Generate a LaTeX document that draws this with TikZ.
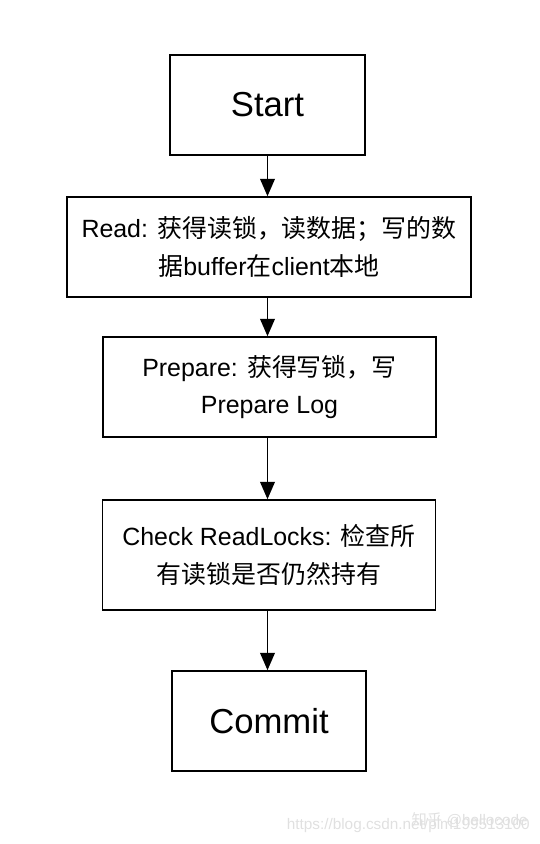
\documentclass[tikz,border=0pt]{standalone}
\usepackage{fontspec}
\setmainfont{Liberation Sans}
\newfontfamily\cjk{Noto Sans CJK SC}
\usetikzlibrary{arrows.meta}
\begin{document}
\begin{tikzpicture}[x=0.75pt,y=-0.75pt,
  box/.style={draw=black,line width=1.2pt,fill=white,align=center,inner sep=0pt},
  small/.style={font=\fontsize{18.7pt}{28pt}\selectfont},
  big/.style={font=\fontsize{26pt}{30pt}\selectfont},
  arr/.style={line width=1.2pt,-{Triangle[width=11pt,length=13pt]}},
  wm/.style={text=black!12,font=\fontsize{11.5pt}{14pt}\selectfont,inner sep=0pt}]
\useasboundingbox (0,0) rectangle (540,844);
\node[box,big,minimum width=146.25pt,minimum height=75pt] (start) at (267.5,105) {Start};
\node[box,small,minimum width=303pt,minimum height=75pt] (read) at (269,247)
  {Read: {\cjk 获得读锁，读数据；写的数}\\{\cjk 据}buffer{\cjk 在}client{\cjk 本地}};
\node[box,small,minimum width=250pt,minimum height=75pt] (prep) at (269.5,387)
  {Prepare: {\cjk 获得写锁，写}\\Prepare Log};
\node[box,small,minimum width=250pt,minimum height=82.5pt] (check) at (269,555)
  {Check ReadLocks: {\cjk 检查所}\\{\cjk 有读锁是否仍然持有}};
\node[box,big,minimum width=145.5pt,minimum height=75pt] (commit) at (269,721) {Commit};
\draw[arr] (start.south) -- (start.south |- read.north);
\draw[arr] (start.south |- read.south) -- (start.south |- prep.north);
\draw[arr] (start.south |- prep.south) -- (start.south |- check.north);
\draw[arr] (start.south |- check.south) -- (start.south |- commit.north);
\node[wm,anchor=east] (wm1) at (530,826) {https://blog.csdn.net/plm199513100};
\node[wm,anchor=east] (wm2) at (528,820) {{\cjk 知乎} @hellocode};
\end{tikzpicture}
\end{document}
